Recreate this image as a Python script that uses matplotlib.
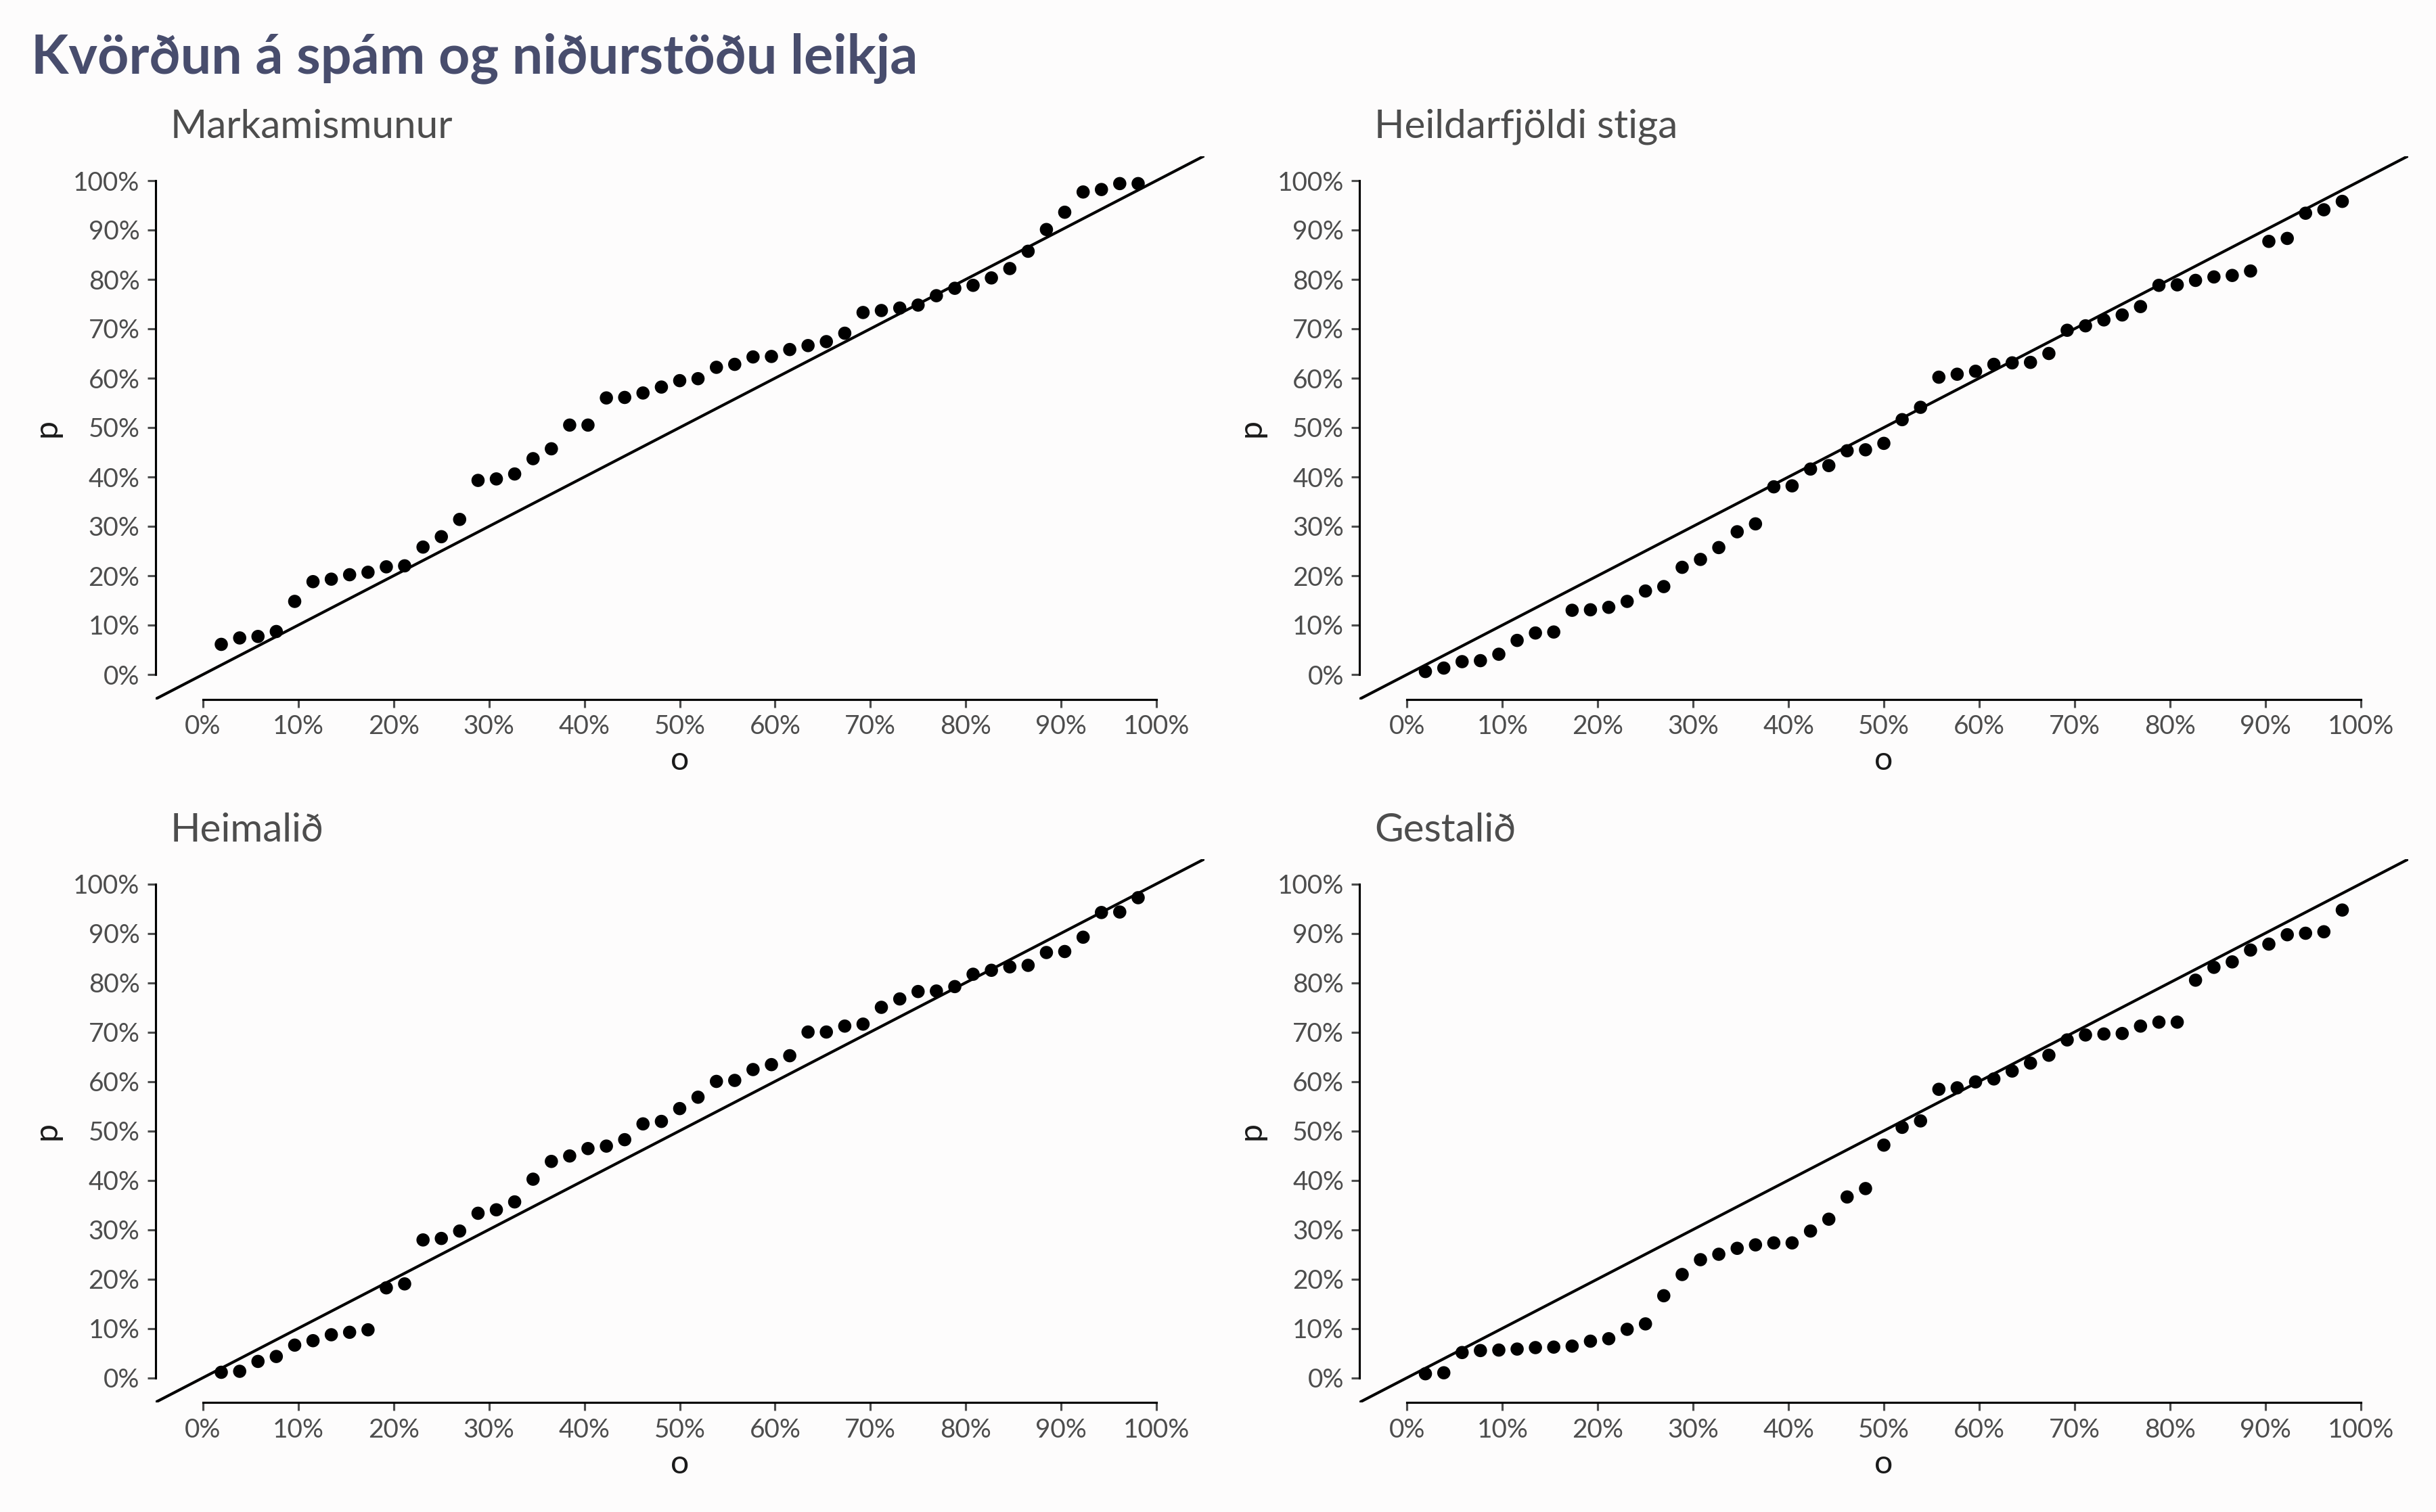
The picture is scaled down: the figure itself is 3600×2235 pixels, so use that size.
import matplotlib
matplotlib.use("Agg")
import matplotlib.pyplot as plt
from matplotlib.ticker import FuncFormatter, FixedLocator

plt.rcParams['font.family'] = ['Lato', 'DejaVu Sans']

title = "Kvörðun á spám og niðurstöðu leikja"
panel_titles = ["Markamismunur", "Heildarfjöldi stiga", "Heimalið", "Gestalið"]

# observed quantile (o), percent
o_vals = [1.92, 3.85, 5.77, 7.69, 9.62, 11.54, 13.46, 15.38, 17.31, 19.23,
          21.15, 23.08, 25.00, 26.92, 28.85, 30.77, 32.69, 34.62, 36.54, 38.46,
          40.38, 42.31, 44.23, 46.15, 48.08, 50.00, 51.92, 53.85, 55.77, 57.69,
          59.62, 61.54, 63.46, 65.38, 67.31, 69.23, 71.15, 73.08, 75.00, 76.92,
          78.85, 80.77, 82.69, 84.62, 86.54, 88.46, 90.38, 92.31, 94.23, 96.15,
          98.08]

p_markamismunur = [6.1, 7.4, 7.7, 8.7, 14.8, 18.8, 19.3, 20.2, 20.7, 21.8,
                   22.0, 25.8, 27.9, 31.4, 39.3, 39.6, 40.6, 43.7, 45.7, 50.5,
                   50.5, 56.0, 56.1, 57.0, 58.2, 59.5, 59.9, 62.2, 62.8, 64.3,
                   64.4, 65.8, 66.6, 67.4, 69.1, 73.3, 73.7, 74.2, 74.8, 76.7,
                   78.2, 78.8, 80.3, 82.2, 85.7, 90.1, 93.6, 97.7, 98.2, 99.4,
                   99.4]
p_heildarfjoldi = [0.6, 1.3, 2.6, 2.8, 4.1, 6.9, 8.4, 8.6, 13.0, 13.1,
                   13.6, 14.8, 16.9, 17.8, 21.7, 23.3, 25.7, 28.9, 30.5, 38.0,
                   38.2, 41.6, 42.3, 45.3, 45.5, 46.8, 51.6, 54.1, 60.2, 60.8,
                   61.4, 62.8, 63.1, 63.2, 65.0, 69.7, 70.6, 71.8, 72.8, 74.5,
                   78.8, 78.9, 79.8, 80.5, 80.8, 81.7, 87.7, 88.3, 93.4, 94.1,
                   95.8]
p_heimalid = [1.1, 1.3, 3.3, 4.3, 6.6, 7.5, 8.7, 9.2, 9.7, 18.2,
              19.0, 27.9, 28.2, 29.7, 33.3, 34.0, 35.6, 40.2, 43.8, 44.9,
              46.4, 46.9, 48.2, 51.4, 51.9, 54.5, 56.8, 60.0, 60.2, 62.4,
              63.4, 65.2, 70.0, 70.0, 71.2, 71.6, 75.0, 76.7, 78.2, 78.3,
              79.2, 81.7, 82.5, 83.2, 83.5, 86.1, 86.3, 89.2, 94.2, 94.3,
              97.2]
p_gestalid = [0.8, 1.0, 5.1, 5.5, 5.6, 5.8, 6.1, 6.2, 6.4, 7.4,
              7.9, 9.8, 10.9, 16.6, 20.9, 23.9, 25.0, 26.2, 26.9, 27.3,
              27.3, 29.7, 32.1, 36.6, 38.3, 47.1, 50.7, 52.0, 58.4, 58.7,
              59.9, 60.5, 62.1, 63.7, 65.3, 68.4, 69.4, 69.6, 69.7, 71.2,
              72.0, 72.0, 80.5, 83.1, 84.2, 86.6, 87.8, 89.7, 90.0, 90.3,
              94.7]

series = [p_markamismunur, p_heildarfjoldi, p_heimalid, p_gestalid]
tick_vals = [0, 10, 20, 30, 40, 50, 60, 70, 80, 90, 100]

bg = '#fdfcfc'
grey = '#4d4d4d'

W, H = 3600, 2235
fig = plt.figure(figsize=(W / 300, H / 300), dpi=300, facecolor=bg)

pw, ph = 1550, 803
lefts = [229.5, 2009, 229.5, 2009]
tops = [230.5, 230.5, 1270, 1270]

pct = FuncFormatter(lambda v, pos: f"{v:.0f}%")

for i in range(4):
    l, t = lefts[i], tops[i]
    ax = fig.add_axes([l / W, 1 - (t + ph) / H, pw / W, ph / H])
    ax.set_facecolor(bg)
    ax.set_xlim(-5, 105)
    ax.set_ylim(-5, 105)
    ax.axline((0, 0), slope=1, color='black', lw=1.0, zorder=2)
    ax.scatter(o_vals, series[i], s=22, color='black', edgecolors='none', zorder=3)
    for s in ['top', 'right']:
        ax.spines[s].set_visible(False)
    for s in ['left', 'bottom']:
        ax.spines[s].set_bounds(0, 100)
        ax.spines[s].set_linewidth(0.75)
        ax.spines[s].set_color('black')
    ax.xaxis.set_major_locator(FixedLocator(tick_vals))
    ax.yaxis.set_major_locator(FixedLocator(tick_vals))
    ax.xaxis.set_major_formatter(pct)
    ax.yaxis.set_major_formatter(pct)
    ax.tick_params(axis='both', length=2.9, width=0.75, color=grey,
                   labelcolor=grey, labelsize=9.3, pad=2.6)
    ax.text(22 / pw, 1 + 26.5 / ph, panel_titles[i], transform=ax.transAxes,
            ha='left', va='baseline', fontsize=14, color=grey)
    ax.text(0.5, -91 / ph, "o", transform=ax.transAxes, ha='center', va='center',
            fontsize=11.6, color='#1a1a1a')
    ax.text((69 - 229.5) / pw, 0.5, "p", transform=ax.transAxes,
            ha='center', va='center', rotation=90, fontsize=11.6, color='#1a1a1a')

fig.text(46 / W, 1 - 108 / H, title, ha='left', va='baseline', fontsize=19.4,
         fontweight='bold', color='#484D6D')

fig.savefig("out.png", dpi=300, facecolor=bg)
